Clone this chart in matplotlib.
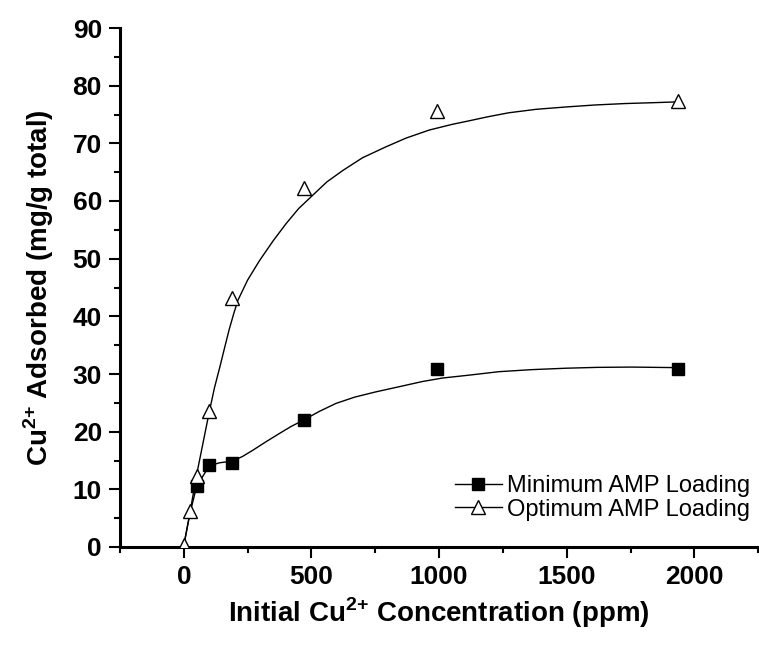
import matplotlib
matplotlib.use("Agg")
import matplotlib.pyplot as plt
from matplotlib.lines import Line2D
from matplotlib.ticker import MultipleLocator

plt.rcParams['font.family'] = ['Liberation Sans', 'DejaVu Sans']
plt.rcParams['mathtext.fontset'] = 'custom'
plt.rcParams['mathtext.rm'] = 'Liberation Sans'
plt.rcParams['mathtext.bf'] = 'Liberation Sans:bold'

# Measured data points
min_x = [50, 100, 190, 470, 990, 1935]
min_y = [10.5, 14.3, 14.5, 22.0, 30.8, 30.9]
opt_x = [0, 25, 50, 100, 190, 470, 990, 1935]
opt_y = [0.3, 6.2, 12.3, 23.6, 43.2, 62.3, 75.6, 77.3]

# Fitted curves
min_fit_x = [0, 25, 50, 100, 140, 190, 230, 271, 320, 375, 420, 469, 530, 596, 670, 752, 844, 935, 1013, 1117, 1234, 1360, 1495, 1620, 1755, 1940]
min_fit_y = [0.3, 6.0, 10.5, 14.1, 14.6, 14.9, 15.7, 16.8, 18.2, 19.7, 20.9, 22.0, 23.5, 24.9, 26.0, 26.9, 27.8, 28.7, 29.3, 29.8, 30.4, 30.75, 31.0, 31.15, 31.2, 31.1]
opt_fit_x = [0, 25, 50, 100, 120, 141, 160, 177, 195, 212, 250, 297, 350, 401, 450, 505, 560, 623, 700, 792, 870, 961, 1052, 1117, 1190, 1273, 1380, 1495, 1610, 1729, 1840, 1940]
opt_fit_y = [0.3, 6.2, 12.5, 23.5, 27.6, 31.2, 34.6, 37.6, 40.4, 42.8, 46.3, 49.7, 53.1, 56.1, 58.7, 61.0, 63.3, 65.3, 67.5, 69.4, 70.9, 72.3, 73.3, 73.9, 74.6, 75.3, 75.9, 76.3, 76.65, 76.9, 77.05, 77.2]

labels = ["Minimum AMP Loading", "Optimum AMP Loading"]
x_ticks = [0, 500, 1000, 1500, 2000]
y_ticks = [0, 10, 20, 30, 40, 50, 60, 70, 80, 90]

fig = plt.figure(figsize=(7.59, 6.51), dpi=100)
ax = fig.add_axes([120/759, 1 - 547/651, 639/759 - 0.001, (547 - 28)/651])

lw = 1.0
ax.plot(min_fit_x, min_fit_y, color='black', lw=lw, zorder=2)
ax.plot(opt_fit_x, opt_fit_y, color='black', lw=lw, zorder=2)
ax.plot(min_x, min_y, ls='none', marker='s', ms=8, mfc='black', mec='black', zorder=3)
ax.plot(opt_x, opt_y, ls='none', marker='^', ms=10, mfc='white', mec='black', mew=1.0, zorder=4)

ax.set_xlim(-250, 2250)
ax.set_ylim(0, 90)
ax.set_xticks(x_ticks)
ax.set_yticks(y_ticks)
ax.xaxis.set_minor_locator(MultipleLocator(250))
ax.yaxis.set_minor_locator(MultipleLocator(5))

for s in ['top', 'right']:
    ax.spines[s].set_visible(False)
for s in ['left', 'bottom']:
    ax.spines[s].set_linewidth(2.2)

ax.tick_params(which='major', direction='out', length=8, width=1.5, labelsize=19, pad=5)
ax.tick_params(which='minor', direction='out', length=4, width=1.5)
for lab in ax.get_xticklabels() + ax.get_yticklabels():
    lab.set_fontweight('bold')

ax.set_xlabel(r'Initial Cu$^{\mathbf{2{+}}}$ Concentration (ppm)', fontsize=20, fontweight='bold', labelpad=5)
ax.set_ylabel(r'Cu$^{\mathbf{2{+}}}$ Adsorbed (mg/g total)', fontsize=20, fontweight='bold', labelpad=12)

handles = [
    Line2D([], [], color='black', lw=lw, marker='s', ms=8, mfc='black', mec='black'),
    Line2D([], [], color='black', lw=lw, marker='^', ms=10, mfc='white', mec='black'),
]
ax.legend(handles, labels, loc='lower right', bbox_to_anchor=(1.02, 0.01), frameon=False,
          fontsize=17, handlelength=2.0, handletextpad=0.2, labelspacing=0.05, numpoints=1)

fig.savefig('out.png', dpi=100)
